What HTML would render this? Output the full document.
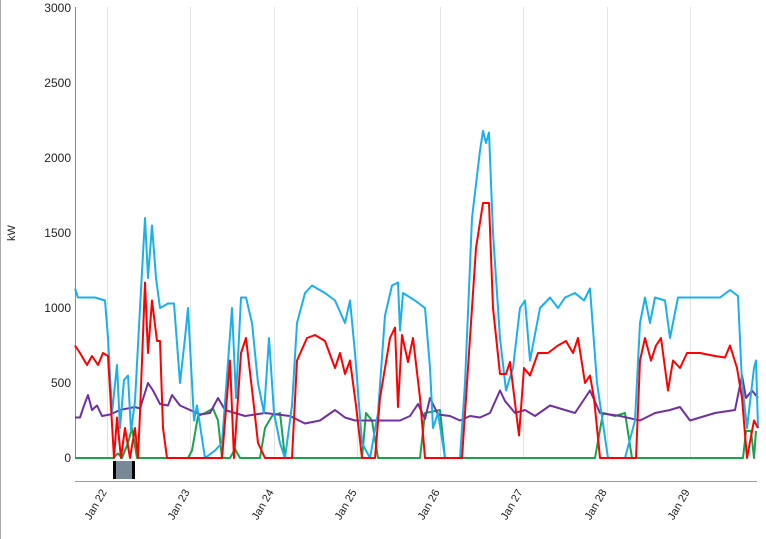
<!DOCTYPE html>
<html><head><meta charset="utf-8"><style>
html,body{margin:0;padding:0;background:#fff;width:766px;height:539px;overflow:hidden}
svg{display:block;font-family:"Liberation Sans",sans-serif}
</style></head><body>
<svg id="s" width="766" height="539" viewBox="0 0 766 539">
<rect x="0" y="0" width="1" height="539" fill="#aaa"/>
<g stroke="#e3e3e3" stroke-width="1">
<line x1="107.5" y1="7" x2="107.5" y2="458"/><line x1="190.5" y1="7" x2="190.5" y2="458"/>
<line x1="274.5" y1="7" x2="274.5" y2="458"/><line x1="357.5" y1="7" x2="357.5" y2="458"/>
<line x1="440.5" y1="7" x2="440.5" y2="458"/><line x1="523.5" y1="7" x2="523.5" y2="458"/>
<line x1="607.5" y1="7" x2="607.5" y2="458"/><line x1="690.5" y1="7" x2="690.5" y2="458"/>
</g>
<line x1="75.5" y1="7" x2="75.5" y2="458" stroke="#888"/>
<g font-size="12" fill="#222" text-anchor="end">
<text x="71" y="12">3000</text><text x="71" y="87">2500</text><text x="71" y="162">2000</text>
<text x="71" y="237">1500</text><text x="71" y="312">1000</text><text x="71" y="387">500</text>
<text x="71" y="462">0</text>
</g>
<text x="15" y="233" font-size="11" fill="#222" transform="rotate(-90 15 233)" text-anchor="middle">kW</text>
<g id="lines" fill="none" stroke-width="2" stroke-linejoin="round"></g>
<rect x="113" y="461" width="22" height="18" fill="#778899"/>
<rect x="113" y="461" width="3" height="18" fill="#000"/>
<rect x="132" y="461" width="3" height="18" fill="#000"/>
<line x1="75" y1="481.5" x2="757" y2="481.5" stroke="#999"/>
<g font-size="11" fill="#222" text-anchor="end">
<text transform="translate(107 492) rotate(-60)">Jan 22</text>
<text transform="translate(190 492) rotate(-60)">Jan 23</text>
<text transform="translate(274 492) rotate(-60)">Jan 24</text>
<text transform="translate(357 492) rotate(-60)">Jan 25</text>
<text transform="translate(440 492) rotate(-60)">Jan 26</text>
<text transform="translate(523 492) rotate(-60)">Jan 27</text>
<text transform="translate(607 492) rotate(-60)">Jan 28</text>
<text transform="translate(690 492) rotate(-60)">Jan 29</text>
</g>
</svg>
<script>
var S={
green:["#1aa34a",[75,0,113,0,118,30,122,0,128,100,132,200,137,0,188,0,192,50,198,280,205,300,213,330,218,250,222,0,230,0,235,60,240,0,260,0,265,200,272,280,280,300,285,0,362,0,366,300,372,250,378,0,420,0,425,300,440,320,445,0,595,0,603,300,615,280,625,300,632,0,743,0,746,180,751,180,754,0,756,180]],
purple:["#7030a0",[75,270,80,270,84,350,88,420,92,320,97,350,102,280,110,290,120,320,135,340,140,330,148,500,153,450,160,360,168,350,172,420,180,350,190,320,200,290,210,300,218,400,225,320,245,280,265,300,290,280,305,230,320,250,335,320,345,270,355,250,375,250,400,250,410,280,418,360,425,260,430,400,438,290,450,280,460,250,470,280,480,270,490,300,500,450,505,380,515,300,525,320,535,280,550,350,575,300,590,450,600,300,620,280,640,250,655,300,670,320,680,340,690,250,715,300,735,320,742,550,746,400,752,450,758,400]],
blue:["#1ab0ec",[75,1130,78,1070,95,1070,105,1050,108,800,112,300,117,620,120,200,124,520,128,550,131,180,135,380,140,1000,145,1600,148,1200,152,1550,156,1200,160,1000,168,1030,174,1030,180,500,185,800,188,1000,194,250,197,350,205,0,215,50,222,100,232,1000,236,400,241,1070,246,1070,252,900,258,500,264,300,269,800,274,300,280,100,285,0,292,350,297,900,305,1100,312,1150,325,1100,335,1050,345,900,350,1050,355,700,362,100,370,0,378,300,385,950,392,1150,398,1170,400,850,403,1100,415,1050,425,1000,430,600,433,200,438,300,445,0,460,0,465,500,472,1600,480,2050,483,2180,486,2100,489,2170,493,1500,500,800,506,450,513,600,520,1000,525,1050,530,650,540,1000,550,1070,558,1000,565,1070,575,1100,584,1050,590,1130,597,500,608,0,625,0,635,250,640,900,645,1070,650,900,655,1070,665,1050,670,800,678,1070,720,1070,730,1120,738,1080,742,500,747,200,754,600,756,650,758,200]],
red:["#ff0000",[75,750,80,700,87,620,92,680,98,620,103,700,108,680,114,0,117,270,121,0,125,200,130,0,135,200,138,0,140,300,145,1170,148,700,152,1050,157,780,160,780,163,200,167,0,222,0,230,650,234,0,241,700,246,800,253,400,258,100,265,0,292,0,297,650,307,800,315,820,325,780,335,600,340,700,345,560,350,650,356,350,362,0,375,0,380,400,390,800,395,870,398,340,402,820,408,640,413,800,420,400,425,0,462,0,468,600,476,1400,483,1700,489,1700,493,1000,500,560,506,560,510,640,519,150,524,600,530,550,538,700,548,700,558,750,566,780,573,700,578,800,585,500,590,550,594,400,600,0,636,0,640,650,645,800,651,650,656,750,661,800,668,450,673,650,680,600,687,700,700,700,715,680,725,670,730,750,737,600,742,400,747,0,754,250,758,200]]
};
var g=document.getElementById('lines');
["green","purple","blue","red"].forEach(function(k){var c=S[k][0],a=S[k][1],p=[];
for(var i=0;i<a.length;i+=2)p.push(a[i]+","+(458-a[i+1]*0.15).toFixed(1));
var e=document.createElementNS("http://www.w3.org/2000/svg","polyline");
e.setAttribute("points",p.join(" "));e.setAttribute("stroke",c);g.appendChild(e);});
</script>
</body></html>
